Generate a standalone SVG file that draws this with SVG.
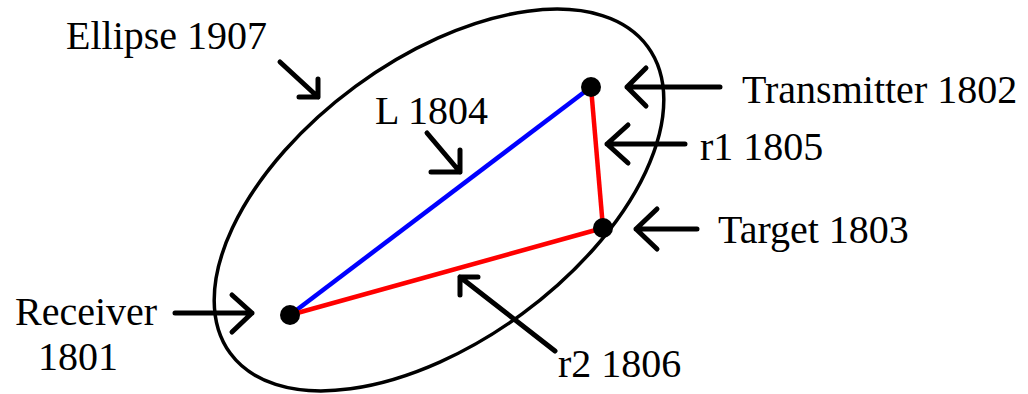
<svg xmlns="http://www.w3.org/2000/svg" width="1028" height="394" viewBox="0 0 1028 394">
<style>
text{font-family:'Liberation Serif','Times New Roman','DejaVu Serif',serif;font-size:40px;fill:#000}
.arr{fill:none;stroke:#000;stroke-width:5;stroke-linecap:round;stroke-linejoin:round}
.dot{fill:#000}
</style>
<rect width="1028" height="394" fill="#fff"/>
<g id="ellipse">
<ellipse cx="439" cy="200" rx="259" ry="141" transform="rotate(-36.3 439 200)" fill="none" stroke="#000" stroke-width="3.5"/>
</g>
<g id="connectors">
<line x1="290" y1="315" x2="591" y2="87" stroke="#0000ff" stroke-width="4.5"/>
<line x1="591" y1="87" x2="603" y2="228" stroke="#ff0000" stroke-width="4.5"/>
<line x1="603" y1="228" x2="290" y2="315" stroke="#ff0000" stroke-width="4.5"/>
</g>
<g id="transmitter"><circle class="dot" cx="591" cy="87" r="10"/></g>
<g id="target"><circle class="dot" cx="603" cy="228" r="10"/></g>
<g id="receiver"><circle class="dot" cx="290" cy="315" r="10"/></g>
<g id="pointers">
<path class="arr" d="M280 62 L318 97 M318 79 L318 97 L299 97"/>
<path class="arr" d="M427 133 L460 172 M460 150 L460 172 L431 172"/>
<path class="arr" d="M720 87 L627 87 M646 68 L627 87 L646 106"/>
<path class="arr" d="M685 144 L607 144 M628 125 L607 144 L628 163"/>
<path class="arr" d="M697 229 L636 229 M657 209 L636 229 L657 249"/>
<path class="arr" d="M175 313 L252 313 M232 295 L252 313 L232 332"/>
<path class="arr" d="M555 351 L460 277 M478 277 L460 277 L460 295"/>
</g>
<g id="labels">
<text x="66" y="49">Ellipse 1907</text>
<text x="375" y="124">L 1804</text>
<text x="742" y="103">Transmitter 1802</text>
<text x="700" y="160">r1 1805</text>
<text x="718" y="243">Target 1803</text>
<text x="15" y="325">Receiver</text>
<text x="38" y="370">1801</text>
<text x="558" y="377">r2 1806</text>
</g>
</svg>
